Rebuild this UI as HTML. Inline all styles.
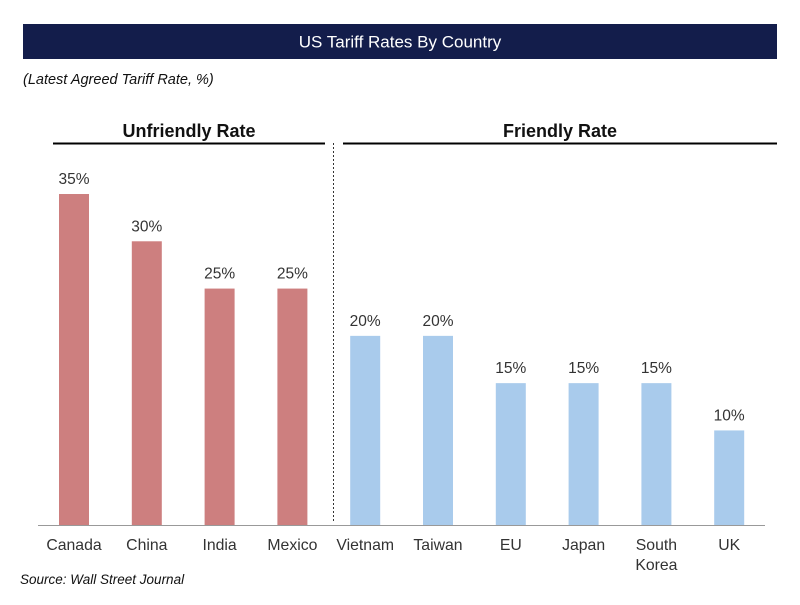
<!DOCTYPE html>
<html><head><meta charset="utf-8"><style>
body{margin:0;background:#fff;}
svg text{font-family:"Liberation Sans",sans-serif;}
</style></head><body>
<svg width="800" height="600" xmlns="http://www.w3.org/2000/svg">
<rect x="23" y="24" width="754" height="35" fill="#131d4b"/>
<text x="400" y="47.5" fill="#fff" font-size="17" text-anchor="middle">US Tariff Rates By Country</text>
<text x="23" y="84" font-size="14.5" font-style="italic" fill="#111">(Latest Agreed Tariff Rate, %)</text>
<text x="189" y="137" font-size="18" font-weight="bold" text-anchor="middle" fill="#111">Unfriendly Rate</text>
<line x1="53" y1="143.5" x2="325" y2="143.5" stroke="#000" stroke-width="2"/>
<text x="560" y="137" font-size="18" font-weight="bold" text-anchor="middle" fill="#111">Friendly Rate</text>
<line x1="343" y1="143.5" x2="777" y2="143.5" stroke="#000" stroke-width="2"/>
<line x1="333.5" y1="143" x2="333.5" y2="523" stroke="#333" stroke-width="1" stroke-dasharray="2,2"/>
<g id="bars"></g>
<line x1="38" y1="525.5" x2="765" y2="525.5" stroke="#999" stroke-width="1"/>
<text x="20" y="584" font-size="13.5" font-style="italic" fill="#111">Source: Wall Street Journal</text>
</svg>
<script>
const categories=["Canada","China","India","Mexico","Vietnam","Taiwan","EU","Japan","South|Korea","UK"];
const values=[35,30,25,25,20,20,15,15,15,10];
const groups=["u","u","u","u","f","f","f","f","f","f"];
const g=document.getElementById('bars');
const NS="http://www.w3.org/2000/svg";
const x=i=>74+i*72.8;
const y=v=>525-v*9.457;
categories.forEach((c,i)=>{
  const v=values[i];
  const r=document.createElementNS(NS,'rect');
  r.setAttribute('x',x(i)-15);r.setAttribute('width',30);
  r.setAttribute('y',y(v));r.setAttribute('height',525-y(v));
  r.setAttribute('fill',groups[i]==="u"?"#cd7f7f":"#a9cbec");
  
  
  g.appendChild(r);
  const t=document.createElementNS(NS,'text');
  t.setAttribute('x',x(i));t.setAttribute('y',y(v)-10);
  t.setAttribute('text-anchor','middle');t.setAttribute('font-size','15.5');t.setAttribute('fill','#333');
  t.textContent=v+'%';
  
  
  g.appendChild(t);
  c.split('|').forEach((ln,k)=>{
    const l=document.createElementNS(NS,'text');
    l.setAttribute('x',x(i));l.setAttribute('y',550+k*20);
    l.setAttribute('text-anchor','middle');l.setAttribute('font-size','15.8');l.setAttribute('fill','#333');
    l.textContent=ln;
    
    
    g.appendChild(l);
  });
});
</script>
</body></html>
